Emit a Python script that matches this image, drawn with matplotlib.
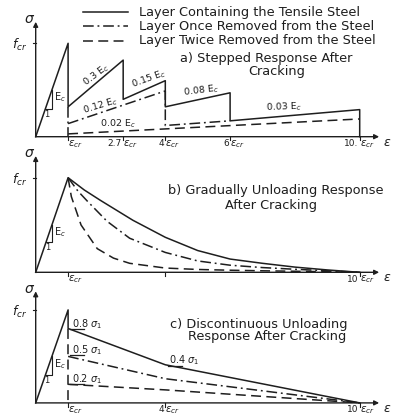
import matplotlib
matplotlib.use('Agg')
import matplotlib.pyplot as plt

# ---------------- data (strain in eps_cr units, stress in f_cr units) ----------------
legend_labels = ['Layer Containing the Tensile Steel',
                 'Layer Once Removed from the Steel',
                 'Layer Twice Removed from the Steel']

# Panel a: stepped response
a_solid_eps = [0, 1, 1, 2.7, 2.7, 4, 4, 6, 6, 10, 10]
a_solid_sig = [0, 1, 0.32, 0.82, 0.40, 0.60, 0.32, 0.47, 0.17, 0.29, 0]
a_dashdot_eps = [1, 4, 4, 6]
a_dashdot_sig = [0.14, 0.49, 0.12, 0.17]
a_dashed_eps = [1, 10]
a_dashed_sig = [0.03, 0.19]
a_ticks = [1, 2.7, 4, 6, 10]
a_tick_nums = ['', '2.7', '4', '6', '10.']
a_slope_labels = ['0.3 E$_c$', '0.15 E$_c$', '0.12 E$_c$', '0.02 E$_c$', '0.08 E$_c$', '0.03 E$_c$']

# Panel b: gradually unloading response
b_solid_eps = [0, 1, 1.5, 2, 3, 4, 5, 6, 7, 8, 9, 10]
b_solid_sig = [0, 1, 0.87, 0.76, 0.55, 0.37, 0.23, 0.14, 0.095, 0.055, 0.025, 0]
b_dashdot_eps = [1, 1.3, 1.6, 2.2, 2.9, 4, 5, 6, 7, 8, 9, 10]
b_dashdot_sig = [1, 0.86, 0.75, 0.54, 0.36, 0.21, 0.12, 0.075, 0.05, 0.032, 0.016, 0]
b_dashed_eps = [1, 1.1, 1.4, 1.9, 2.4, 2.9, 4, 5, 6, 7, 8, 9, 10]
b_dashed_sig = [1, 0.8, 0.5, 0.25, 0.15, 0.095, 0.045, 0.03, 0.022, 0.016, 0.011, 0.006, 0]
b_ticks = [1, 4, 10]
b_tick_nums = ['', None, '10']

# Panel c: discontinuous unloading response
c_solid_eps = [0, 1, 1, 4, 10]
c_solid_sig = [0, 1, 0.8, 0.41, 0]
c_dashdot_eps = [1, 4, 10]
c_dashdot_sig = [0.5, 0.26, 0]
c_dashed_eps = [1, 4, 10]
c_dashed_sig = [0.2, 0.14, 0]
c_ticks = [1, 4, 10]
c_tick_nums = ['', '4', '10']
c_level_labels = ['0.8', '0.5', '0.2', '0.4']

# ---------------- styling ----------------
W, H = 399, 416
X0, SX = 35.7, 32.4
INK = '#1e1e1e'
LW = 1.1
FS = 9.3
DASHED = (0, (6.5, 3.5))
DASHDOT = (0, (7, 2.5, 1.2, 2.5))
plt.rcParams['font.family'] = ['DejaVu Sans']
plt.rcParams['mathtext.fontset'] = 'dejavusans'

fig = plt.figure(figsize=(W / 100, H / 100), dpi=100)
fig.patch.set_facecolor('white')


def make_axes(y0, sy):
    ax = fig.add_axes([0, 0, 1, 1])
    ax.set_xlim(-X0 / SX, (W - X0) / SX)
    ax.set_ylim((y0 - H) / sy, y0 / sy)
    ax.axis('off')
    ax.patch.set_visible(False)
    return ax


def frame(ax, ytip, ticks, nums, xend=10.6):
    kw = dict(arrowstyle='-|>', color=INK, lw=1.0, mutation_scale=7, shrinkA=0, shrinkB=0)
    ax.annotate('', xy=(xend, 0), xytext=(0, 0), arrowprops=kw)
    ax.annotate('', xy=(0, ytip), xytext=(0, 0), arrowprops=kw)
    ax.text(-0.2, ytip + 0.03, r'$\sigma$', fontsize=10, color=INK, ha='center', va='center')
    ax.text(-0.5, 0.98, r'$f_{cr}$', fontsize=9, color=INK, ha='center', va='center')
    ax.plot([-0.07, 0], [1, 1], color=INK, lw=0.8)
    ax.text(xend + 0.25, -0.06, r'$\varepsilon$', fontsize=9, color=INK, ha='center', va='center')
    for t, n in zip(ticks, nums):
        ax.plot([t, t], [0, -0.04], color=INK, lw=0.8)
        if n is None:
            continue
        if n:
            ax.text(t - 0.04, -0.075, n, fontsize=6.5, color=INK, ha='right', va='center')
        ax.text(t, -0.075, r'$\varepsilon_{cr}$', fontsize=7.5, color=INK, ha='left', va='center')


def slope_triangle(ax, a=0.3, b=0.5):
    ax.plot([a, b, b], [a, a, b], color=INK, lw=0.8)
    ax.text(b + 0.05, (a + b) / 2 + 0.02, 'E$_c$', fontsize=7, color=INK, ha='left', va='center')
    ax.text((a + b) / 2 - 0.05, a - 0.06, '1', fontsize=6, color=INK, ha='center', va='center')


# ---------------- panel a ----------------
ax = make_axes(136.7, 93.4)
frame(ax, 1.23, a_ticks, a_tick_nums)
ax.plot(a_solid_eps, a_solid_sig, color=INK, lw=LW)
ax.plot(a_dashdot_eps, a_dashdot_sig, color=INK, lw=LW, linestyle=DASHDOT)
ax.plot([1, 1], [0.32, 0.0], color=INK, lw=LW, linestyle=DASHDOT)
ax.plot(a_dashed_eps, a_dashed_sig, color=INK, lw=LW, linestyle=DASHED)
slope_triangle(ax)
pos = [(1.88, 0.66, 37), (3.5, 0.62, 20), (1.98, 0.33, 17),
       (2.55, 0.14, 0), (5.1, 0.49, 7), (7.65, 0.315, 2)]
for lab, (x, y, r) in zip(a_slope_labels, pos):
    ax.text(x, y, lab, fontsize=6.8, color=INK, ha='center', va='center', rotation=r)
ax.text(7.1, 0.835, 'a) Stepped Response After', fontsize=FS, color=INK, ha='center', va='center')
ax.text(7.45, 0.70, 'Cracking', fontsize=FS, color=INK, ha='center', va='center')
# legend
styles = ['-', DASHDOT, DASHED]
rows = [1.335, 1.18, 1.025]
for lab, ls, yy in zip(legend_labels, styles, rows):
    ax.plot([1.46, 2.85], [yy, yy], color=INK, lw=LW, linestyle=ls, clip_on=False)
    ax.text(3.2, yy, lab, fontsize=FS, color=INK, ha='left', va='center')

# ---------------- panel b ----------------
ax = make_axes(272.3, 94.6)
frame(ax, 1.23, b_ticks, b_tick_nums)
ax.plot(b_solid_eps, b_solid_sig, color=INK, lw=LW)
ax.plot(b_dashdot_eps, b_dashdot_sig, color=INK, lw=LW, linestyle=DASHDOT)
ax.plot(b_dashed_eps, b_dashed_sig, color=INK, lw=LW, linestyle=DASHED)
slope_triangle(ax, 0.32, 0.5)
ax.text(4.08, 0.86, 'b) Gradually Unloading Response', fontsize=FS, color=INK, ha='left', va='center')
ax.text(5.84, 0.71, 'After Cracking', fontsize=FS, color=INK, ha='left', va='center')

# ---------------- panel c ----------------
ax = make_axes(402.9, 93.0)
frame(ax, 1.2, c_ticks, c_tick_nums)
ax.plot(c_solid_eps, c_solid_sig, color=INK, lw=LW)
ax.plot([1, 1], [0.8, 0], color=INK, lw=LW, linestyle=DASHED)
ax.plot(c_dashdot_eps, c_dashdot_sig, color=INK, lw=LW, linestyle=DASHDOT)
ax.plot(c_dashed_eps, c_dashed_sig, color=INK, lw=LW, linestyle=DASHED)
slope_triangle(ax, 0.3, 0.5)
lvl_pos = [(1.12, 0.85, 0.8), (1.12, 0.57, 0.515), (1.12, 0.26, 0.2), (4.12, 0.46, 0.40)]
for lab, (x, y, u) in zip(c_level_labels, lvl_pos):
    ax.text(x, y, lab + r' $\sigma_1$', fontsize=7, color=INK, ha='left', va='center')
    ax.plot([x - 0.05, x + 0.38], [u, u], color=INK, lw=0.9)
ax.text(4.14, 0.84, 'c) Discontinuous Unloading', fontsize=FS, color=INK, ha='left', va='center')
ax.text(4.7, 0.71, 'Response After Cracking', fontsize=FS, color=INK, ha='left', va='center')

fig.savefig('out.png', dpi=100, facecolor='white')
